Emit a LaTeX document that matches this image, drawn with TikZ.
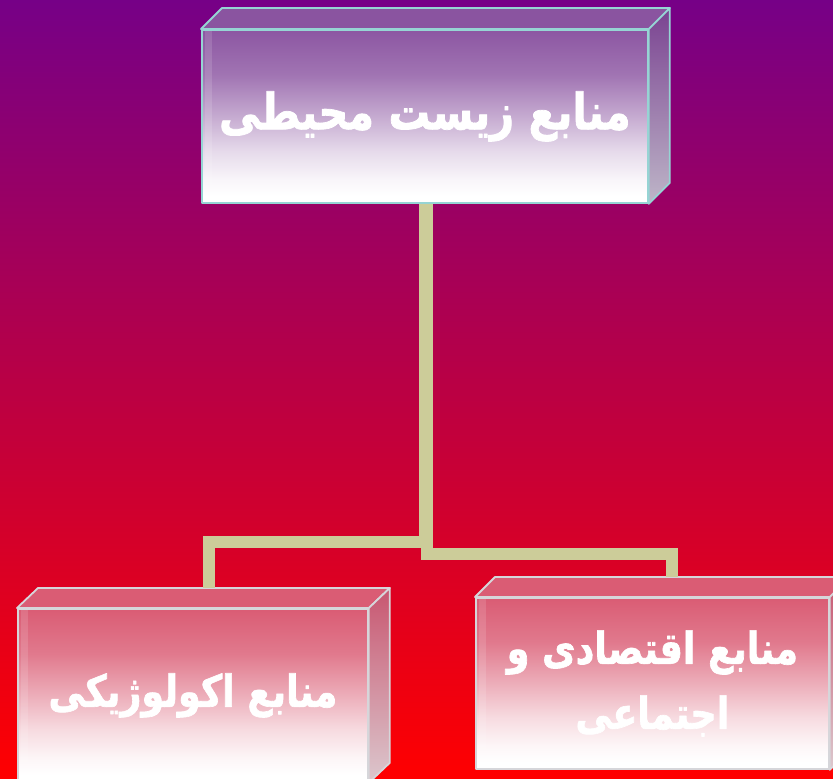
\documentclass[tikz,border=0pt]{standalone}
\usepackage{fontspec}
\TeXXeTstate=1
\newfontfamily\arabicfont[Script=Arabic, FakeStretch=0.83, BoldFeatures={FakeBold=1.5}]{DejaVu Sans}
\usetikzlibrary{calc}
\definecolor{bgtop}{RGB}{118,0,135}
\definecolor{bgbot}{RGB}{255,0,0}
\definecolor{conn}{RGB}{204,204,153}
\definecolor{ptop}{RGB}{140,86,162}
\definecolor{ptopface}{RGB}{138,84,160}
\definecolor{pside}{RGB}{122,66,145}
\definecolor{psidebot}{RGB}{190,182,200}
\definecolor{pedge}{RGB}{150,212,212}
\definecolor{rtop}{RGB}{218,92,116}
\definecolor{rtopface}{RGB}{218,92,116}
\definecolor{rside}{RGB}{200,86,112}
\definecolor{rsidebot}{RGB}{220,200,206}
\definecolor{redge}{RGB}{214,214,218}
\pgfdeclareverticalshading{pfront}{100bp}{color(0bp)=(white); color(27bp)=(white); color(32bp)=(ptop!6!white); color(40bp)=(ptop!22!white); color(50bp)=(ptop!50!white); color(62bp)=(ptop!82!white); color(75bp)=(ptop); color(100bp)=(ptop)}
\pgfdeclareverticalshading{rfront}{100bp}{color(0bp)=(white); color(27bp)=(white); color(32bp)=(rtop!6!white); color(40bp)=(rtop!22!white); color(50bp)=(rtop!50!white); color(62bp)=(rtop!82!white); color(75bp)=(rtop); color(100bp)=(rtop)}
\tikzset{
  link/.style={draw=conn, line width=12pt},
  facebox/.style={draw=#1, line width=1.8pt, line join=round, inner sep=0pt, anchor=north west, text=white, align=center},
  sideface/.style={draw=#1, line width=1.8pt, line join=round},
  glass/.style={fill=white, fill opacity=0.13},
  bigtxt/.style={font=\arabicfont\bfseries\fontsize{50pt}{60pt}\selectfont},
  smalltxt/.style={font=\arabicfont\bfseries\fontsize{44pt}{65pt}\selectfont},
}
\begin{document}
\begin{tikzpicture}[x=1pt,y=-1pt]
\clip (0,0) rectangle (833,779);
\shade[top color=bgtop, bottom color=bgbot] (0,0) rectangle (833,779);

% front faces
\node[facebox=pedge, minimum width=446pt, minimum height=173pt, shade, shading=pfront, bigtxt] (top) at (201,29)
  {\beginR منابع زیست محیطی\endR};
\node[facebox=redge, minimum width=350pt, minimum height=173pt, shade, shading=rfront, smalltxt] (left) at (17,608)
  {\beginR منابع اکولوژیکی\endR};
\node[facebox=redge, minimum width=353pt, minimum height=171pt, shade, shading=rfront, smalltxt] (right) at (475,597)
  {\beginR منابع اقتصادی و\endR\\\beginR اجتماعی\endR};

% glassy highlights near the left edges
\path[glass] ($(top.north west)+(4,2)$) rectangle ($(top.south west)+(11,-2)$);
\path[glass] ($(left.north west)+(4,2)$) rectangle ($(left.south west)+(11,-2)$);
\path[glass] ($(right.north west)+(4,2)$) rectangle ($(right.south west)+(11,-2)$);

% 3D top and side faces
\path[sideface=pedge, fill=ptopface] (top.north west) -- ++(21,-21) -- ($(top.north east)+(21,-21)$) -- (top.north east) -- cycle;
\path[sideface=pedge, top color=pside, bottom color=psidebot] (top.north east) -- ++(21,-21) -- ($(top.south east)+(21,-21)$) -- (top.south east) -- cycle;
\path[sideface=redge, fill=rtopface] (left.north west) -- ++(21,-20) -- ($(left.north east)+(21,-20)$) -- (left.north east) -- cycle;
\path[sideface=redge, top color=rside, bottom color=rsidebot] (left.north east) -- ++(21,-20) -- ($(left.south east)+(21,-20)$) -- (left.south east) -- cycle;
\path[sideface=redge, fill=rtopface] (right.north west) -- ++(20,-20) -- ($(right.north east)+(20,-20)$) -- (right.north east) -- cycle;
\path[sideface=redge, top color=rside, bottom color=rsidebot] (right.north east) -- ++(20,-20) -- ($(right.south east)+(20,-20)$) -- (right.south east) -- cycle;

% connectors
\coordinate (lj) at ($(left.north)+(16.5,-20)$);
\coordinate (rj) at ($(right.north)+(20,-20)$);
\draw[link] (top.south) -- ++(0,338) -| (lj);
\draw[link] ([xshift=2pt]top.south) -- ++(0,350) -| (rj);
\end{tikzpicture}
\end{document}
